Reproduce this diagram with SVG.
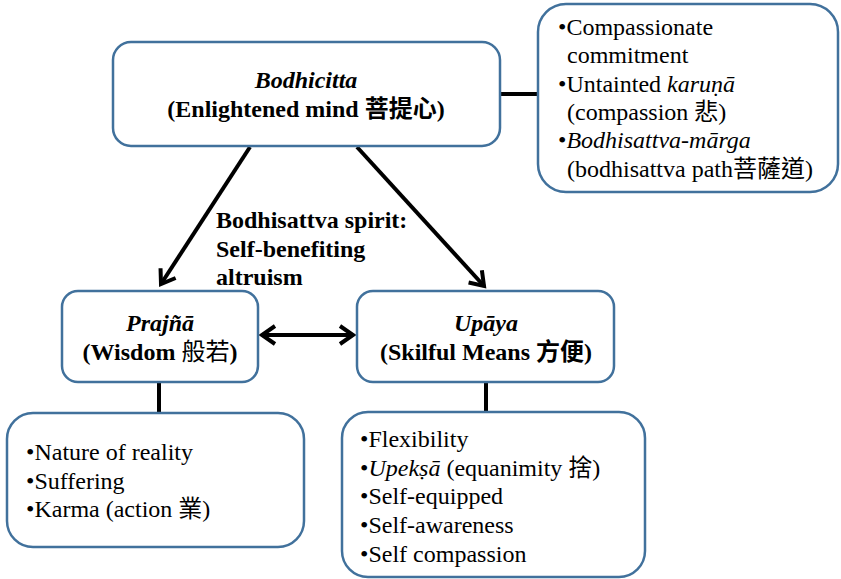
<svg xmlns="http://www.w3.org/2000/svg" width="841" height="579" viewBox="0 0 841 579">
<defs>
<style>
.box{fill:#fff;stroke:#41719C;stroke-width:2.5}
.t{font-family:'Liberation Serif',Tinos,'Times New Roman','DejaVu Serif',serif;font-size:24px;fill:#000}
.k{font-family:'Noto Sans CJK TC','Noto Sans CJK SC',sans-serif;font-weight:normal}
.b{font-weight:bold}
.i{font-style:italic}
.c{text-anchor:middle}
.ln{stroke:#000;stroke-width:4;fill:none}
</style>
<marker id="ah" markerUnits="userSpaceOnUse" markerWidth="30" markerHeight="30" viewBox="-20 -15 30 30" refX="0" refY="0" orient="auto-start-reverse">
<path d="M-13,-9 L0,0 L-13,9" fill="none" stroke="#000" stroke-width="4"/>
</marker>
</defs>
<rect width="841" height="579" fill="#fff"/>
<g id="connectors">
<line class="ln" x1="500" y1="94" x2="538" y2="94"/>
<line class="ln" x1="159" y1="382" x2="159" y2="413"/>
<line class="ln" x1="486" y1="382" x2="486" y2="412"/>
<line class="ln" x1="250" y1="147" x2="161" y2="284" marker-end="url(#ah)"/>
<line class="ln" x1="357" y1="147" x2="484" y2="286" marker-end="url(#ah)"/>
<line class="ln" x1="262" y1="335" x2="353" y2="335" marker-start="url(#ah)" marker-end="url(#ah)"/>
</g>
<g id="label">
<text class="t b" x="216" y="228">Bodhisattva spirit:</text>
<text class="t b" x="216" y="257">Self-benefiting</text>
<text class="t b" x="216" y="285">altruism</text>
</g>
<g id="bodhicitta">
<rect class="box" x="113" y="42" width="387" height="104" rx="18"/>
<text class="t b i c" x="306" y="88">Bodhicitta</text>
<text class="t b c" x="306" y="117">(Enlightened mind <tspan class="k" style="font-weight:bold">菩提心</tspan>)</text>
</g>
<g id="compassion">
<rect class="box" x="538" y="4" width="300" height="188" rx="28"/>
<text class="t" x="558" y="35">•Compassionate</text>
<text class="t" x="567" y="63">commitment</text>
<text class="t" x="558" y="92">•Untainted <tspan class="i">karuṇā</tspan></text>
<text class="t" x="567" y="120">(compassion <tspan class="k">悲</tspan>)</text>
<text class="t" x="558" y="148">•<tspan class="i">Bodhisattva-mārga</tspan></text>
<text class="t" x="567" y="177">(bodhisattva path<tspan class="k">菩薩道</tspan>)</text>
</g>
<g id="prajna">
<rect class="box" x="62" y="291" width="196" height="91" rx="16"/>
<text class="t b i c" x="160" y="331">Prajñā</text>
<text class="t b c" x="160" y="360">(Wisdom <tspan class="k">般若</tspan>)</text>
</g>
<g id="upaya">
<rect class="box" x="357" y="291" width="257" height="91" rx="16"/>
<text class="t b i c" x="486" y="331">Upāya</text>
<text class="t b c" x="486" y="360">(Skilful Means <tspan class="k" style="font-weight:bold">方便</tspan>)</text>
</g>
<g id="wisdom-list">
<rect class="box" x="7" y="413" width="297" height="134" rx="26"/>
<text class="t" x="26" y="460">•Nature of reality</text>
<text class="t" x="26" y="489">•Suffering</text>
<text class="t" x="26" y="517">•Karma (action <tspan class="k">業</tspan>)</text>
</g>
<g id="means-list">
<rect class="box" x="342" y="412" width="303" height="165" rx="26"/>
<text class="t" x="360" y="447">•Flexibility</text>
<text class="t" x="360" y="476">•<tspan class="i">Upekṣā</tspan> (equanimity <tspan class="k">捨</tspan>)</text>
<text class="t" x="360" y="504">•Self-equipped</text>
<text class="t" x="360" y="533">•Self-awareness</text>
<text class="t" x="360" y="562">•Self compassion</text>
</g>
</svg>
